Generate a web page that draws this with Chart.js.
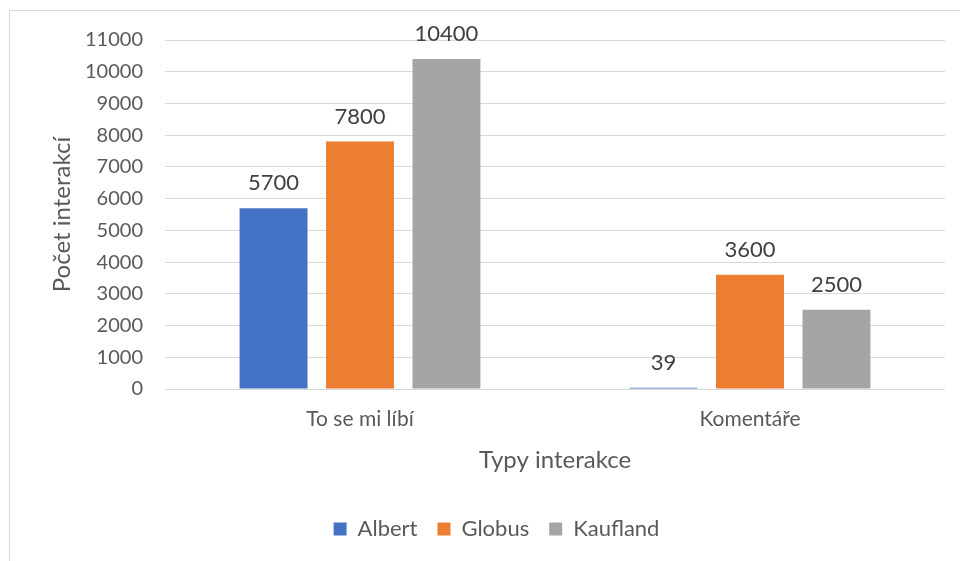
<!DOCTYPE html>
<html>
<head>
<meta charset="utf-8">
<script src="https://cdn.jsdelivr.net/npm/chart.js@4"></script>
<style>
  body { margin: 0; background: #fff; overflow: hidden; }
  .frame { position: absolute; left: 9px; top: 10px; width: 1000px; height: 600px; border: 1px solid #d9d9d9; }
  .wrap { position: absolute; left: 0; top: 0; width: 960px; height: 561px; }
</style>
</head>
<body>
<div class="frame"></div>
<div class="wrap"><canvas id="chart"></canvas></div>
<script>
// --- Data ---
const categories = ['To se mi líbí', 'Komentáře'];
const albert = [5700, 39];
const globus = [7800, 3600];
const kaufland = [10400, 2500];
const yTicks = [0, 1000, 2000, 3000, 4000, 5000, 6000, 7000, 8000, 9000, 10000, 11000];

const FONT = "Lato, 'Open Sans', sans-serif";
const TEXT = '#595959';

// popisky hodnot nad sloupci
const valueLabels = {
    id: 'valueLabels',
    afterDatasetsDraw(chart) {
        const c = chart.ctx;
        c.save();
        c.font = '22px ' + FONT;
        c.fillStyle = '#404040';
        c.textAlign = 'center';
        c.textBaseline = 'alphabetic';
        chart.data.datasets.forEach((ds, i) => {
            chart.getDatasetMeta(i).data.forEach((bar, j) => {
                c.fillText(ds.data[j], bar.x, bar.y - 18);
            });
        });
        c.restore();
    }
};

const ctx = document.getElementById('chart').getContext('2d');
new Chart(ctx, {
    type: 'bar',
    data: {
        labels: categories,
        datasets: [
            { label: 'Albert', data: albert, backgroundColor: '#4472c4' },
            { label: 'Globus', data: globus, backgroundColor: '#ed7d31' },
            { label: 'Kaufland', data: kaufland, backgroundColor: '#a5a5a5' }
        ]
    },
    options: {
        responsive: true,
        maintainAspectRatio: false,
        animation: false,
        categoryPercentage: 0.665,
        barPercentage: 0.786,
        layout: { padding: { top: 40, right: 15, left: 48, bottom: 11 } },
        plugins: {
            tooltip: { enabled: false },
            legend: {
                position: 'bottom',
                labels: {
                    color: TEXT,
                    font: { family: FONT, size: 22 },
                    boxWidth: 13,
                    boxHeight: 13,
                    padding: 20
                }
            }
        },
        scales: {
            x: {
                grid: { display: false },
                border: { display: false },
                ticks: { color: TEXT, font: { family: FONT, size: 21 }, padding: 10 },
                title: {
                    display: true,
                    text: 'Typy interakce',
                    color: TEXT,
                    font: { family: FONT, size: 24 },
                    padding: { top: 4, bottom: 23 }
                }
            },
            y: {
                min: 0,
                max: 11000,
                afterBuildTicks(axis) { axis.ticks = yTicks.map(v => ({ value: v })); },
                afterFit(axis) { axis.width = 117; },
                grid: { color: '#d9d9d9', lineWidth: 1, drawTicks: false },
                border: { display: false },
                ticks: {
                    color: TEXT,
                    font: { family: FONT, size: 20 },
                    padding: 22,
                    callback: v => String(v)
                },
                title: {
                    display: true,
                    text: 'Počet interakcí',
                    color: TEXT,
                    font: { family: FONT, size: 24 },
                    padding: { top: 0, bottom: 8 }
                }
            }
        }
    },
    plugins: [valueLabels]
});
</script>
</body>
</html>
